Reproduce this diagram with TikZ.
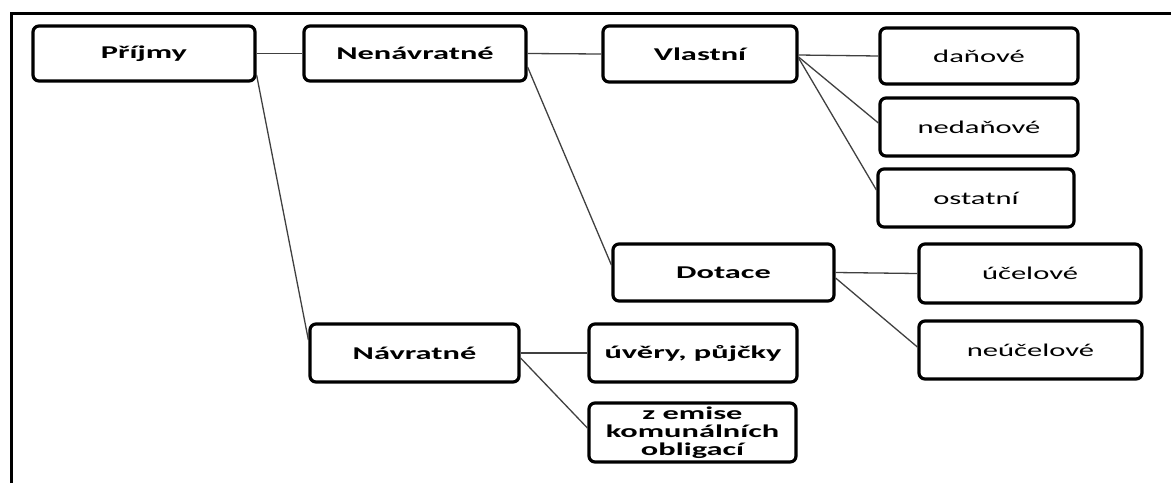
\documentclass[tikz,border=0pt]{standalone}
\usepackage{fontspec}
\setmainfont{Carlito}[FakeStretch=1.8]
\newfontfamily\leaffont{Carlito}[FakeStretch=1.7]
\begin{document}
\begin{tikzpicture}[x=1pt,y=-1pt,
  box/.style={draw, line width=3.2pt, rounded corners=6pt, inner sep=0pt, align=center,
    font=\fontsize{18}{18}\selectfont\bfseries},
  leaf/.style={box, font=\leaffont\fontsize{18}{18}\selectfont},
  link/.style={line width=1.3pt, draw=black!75}]
\useasboundingbox (0,0) rectangle (1171,483);
\draw[line width=3pt] (11,483) -- (11,13) -- (1171,13);

\node[box, minimum width=222pt, minimum height=55pt] (prijmy) at (144,53.5) {Příjmy};
\node[box, minimum width=222pt, minimum height=55pt] (nenavr) at (415,53.5) {Nenávratné};
\node[box, minimum width=194pt, minimum height=56pt] (vlastni) at (700,54) {Vlastní};
\node[leaf, minimum width=198pt, minimum height=56pt] (danove) at (979,56) {daňové};
\node[leaf, minimum width=198pt, minimum height=58pt] (nedanove) at (979,127) {nedaňové};
\node[leaf, minimum width=196pt, minimum height=58pt] (ostatni) at (976,198) {ostatní};
\node[box, minimum width=221pt, minimum height=57pt] (dotace) at (723.5,272.5) {Dotace};
\node[leaf, minimum width=222pt, minimum height=59pt] (ucelove) at (1030,273.5) {účelové};
\node[leaf, minimum width=223pt, minimum height=58pt] (neucelove) at (1030.5,350) {neúčelové};
\node[box, minimum width=209pt, minimum height=58pt] (navratne) at (414.5,353) {Návratné};
\node[box, minimum width=208pt, minimum height=58pt] (uvery) at (693,353) {úvěry, půjčky};
\node[box, minimum width=207pt, minimum height=59pt] (emise) at (692.5,432.5) {z emise\\komunálních\\obligací};

\draw[link] (prijmy.east) -- (nenavr.west);
\draw[link] ([yshift=-21.5pt]prijmy.east) -- ([yshift=13pt]navratne.west);
\draw[link] (nenavr.east) -- (vlastni.west);
\draw[link] ([yshift=-13.5pt]nenavr.east) -- ([yshift=7.5pt]dotace.west);
\draw[link] ([yshift=-1pt]vlastni.east) -- (danove.west);
\draw[link] ([yshift=-3pt]vlastni.east) -- ([yshift=4pt]nedanove.west);
\draw[link] ([yshift=-4pt]vlastni.east) -- ([yshift=8pt]ostatni.west);
\draw[link] (dotace.east) -- (ucelove.west);
\draw[link] ([yshift=-5.5pt]dotace.east) -- ([yshift=3pt]neucelove.west);
\draw[link] (navratne.east) -- (uvery.west);
\draw[link] ([yshift=-5pt]navratne.east) -- ([yshift=4.5pt]emise.west);
\end{tikzpicture}
\end{document}
